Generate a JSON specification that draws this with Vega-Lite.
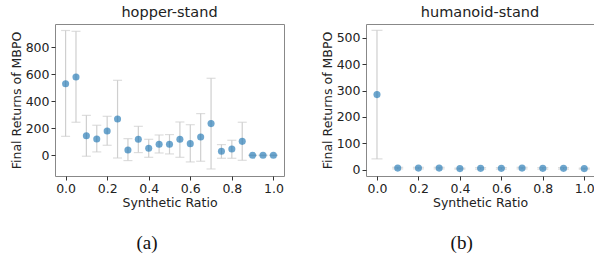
{
  "$schema": "https://vega.github.io/schema/vega-lite/v6.json",
  "background": "white",
  "padding": {"left": 9, "top": 4, "right": 0, "bottom": 0},
  "autosize": {"type": "pad"},
  "datasets": {
    "hopper": [
      {"x": 0.0, "y": 529, "lo": 140, "hi": 922},
      {"x": 0.05, "y": 578, "lo": 244, "hi": 916},
      {"x": 0.1, "y": 145, "lo": -7, "hi": 295},
      {"x": 0.15, "y": 121, "lo": 25, "hi": 222},
      {"x": 0.2, "y": 180, "lo": 74, "hi": 288},
      {"x": 0.25, "y": 268, "lo": -20, "hi": 554},
      {"x": 0.3, "y": 39, "lo": -39, "hi": 123},
      {"x": 0.35, "y": 118, "lo": 20, "hi": 214},
      {"x": 0.4, "y": 52, "lo": -15, "hi": 118},
      {"x": 0.45, "y": 81, "lo": 17, "hi": 150},
      {"x": 0.5, "y": 81, "lo": 10, "hi": 153},
      {"x": 0.55, "y": 118, "lo": -15, "hi": 246},
      {"x": 0.6, "y": 86, "lo": -49, "hi": 226},
      {"x": 0.65, "y": 135, "lo": -44, "hi": 308},
      {"x": 0.7, "y": 234, "lo": -101, "hi": 569},
      {"x": 0.75, "y": 30, "lo": -22, "hi": 79},
      {"x": 0.8, "y": 47, "lo": -22, "hi": 111},
      {"x": 0.85, "y": 103, "lo": -37, "hi": 244},
      {"x": 0.9, "y": 0, "lo": -2, "hi": 2},
      {"x": 0.95, "y": 0, "lo": -2, "hi": 2},
      {"x": 1.0, "y": 0, "lo": -2, "hi": 2}
    ],
    "humanoid": [
      {"x": 0.0, "y": 285, "lo": 41, "hi": 529},
      {"x": 0.1, "y": 6, "lo": 3, "hi": 9},
      {"x": 0.2, "y": 6, "lo": 3, "hi": 9},
      {"x": 0.3, "y": 6, "lo": 3, "hi": 9},
      {"x": 0.4, "y": 4, "lo": 2, "hi": 6},
      {"x": 0.5, "y": 5, "lo": 2, "hi": 8},
      {"x": 0.6, "y": 5, "lo": 2, "hi": 8},
      {"x": 0.7, "y": 6, "lo": 3, "hi": 9},
      {"x": 0.8, "y": 5, "lo": 2, "hi": 8},
      {"x": 0.9, "y": 5, "lo": 2, "hi": 8},
      {"x": 1.0, "y": 4, "lo": 2, "hi": 6}
    ]
  },
  "config": {
    "font": "DejaVu Sans",
    "view": {"stroke": "#888888", "strokeWidth": 1},
    "axis": {
      "domain": false,
      "grid": false,
      "labelFontSize": 12.5,
      "titleFontSize": 12.5,
      "titleFontWeight": "normal",
      "labelColor": "#222222",
      "titleColor": "#222222",
      "tickColor": "#333333",
      "tickSize": 4,
      "labelPadding": 2,
      "labelOverlap": false,
      "labelFlush": false,
      "titlePadding": 2
    },
    "title": {"fontSize": 14.5, "fontWeight": "normal", "color": "#222222"},
    "concat": {"spacing": 35}
  },
  "hconcat": [
    {
      "title": {"text": "(a)", "orient": "bottom", "anchor": "middle", "font": "Liberation Serif", "fontSize": 19, "fontWeight": "normal", "color": "#111111", "offset": 24},
      "vconcat": [
        {
          "title": {"text": "hopper-stand", "offset": 4},
          "width": 229,
          "height": 152,
          "data": {"name": "hopper"},
          "encoding": {
            "x": {"field": "x", "type": "quantitative", "title": "Synthetic Ratio",
                  "scale": {"domain": [-0.051, 1.051], "nice": false, "zero": false},
                  "axis": {"values": [0, 0.2, 0.4, 0.6, 0.8, 1.0], "format": ".1f"}}
          },
          "layer": [
            {
              "mark": {"type": "rule", "color": "#cfcfcf", "strokeWidth": 1.2},
              "encoding": {
                "y": {"field": "lo", "type": "quantitative", "title": "Final Returns of MBPO",
                      "scale": {"domain": [-153, 970], "nice": false, "zero": false},
                      "axis": {"values": [0, 200, 400, 600, 800]}},
                "y2": {"field": "hi"}
              }
            },
            {
              "mark": {"type": "tick", "orient": "horizontal", "size": 9, "thickness": 1.2, "color": "#cfcfcf"},
              "encoding": {"y": {"field": "lo", "type": "quantitative", "title": "Final Returns of MBPO", "axis": {"values": [0, 200, 400, 600, 800]}}}
            },
            {
              "mark": {"type": "tick", "orient": "horizontal", "size": 9, "thickness": 1.2, "color": "#cfcfcf"},
              "encoding": {"y": {"field": "hi", "type": "quantitative", "title": "Final Returns of MBPO", "axis": {"values": [0, 200, 400, 600, 800]}}}
            },
            {
              "mark": {"type": "circle", "size": 50, "color": "#1f77b4", "opacity": 0.65},
              "encoding": {"y": {"field": "y", "type": "quantitative", "title": "Final Returns of MBPO", "axis": {"values": [0, 200, 400, 600, 800]}}}
            }
          ]
        }
      ]
    },
    {
      "title": {"text": "(b)", "orient": "bottom", "anchor": "middle", "dx": 4, "font": "Liberation Serif", "fontSize": 19, "fontWeight": "normal", "color": "#111111", "offset": 24},
      "vconcat": [
        {
          "title": {"text": "humanoid-stand", "offset": 4},
          "width": 228,
          "height": 152,
          "data": {"name": "humanoid"},
          "encoding": {
            "x": {"field": "x", "type": "quantitative", "title": "Synthetic Ratio",
                  "scale": {"domain": [-0.053, 1.047], "nice": false, "zero": false},
                  "axis": {"values": [0, 0.2, 0.4, 0.6, 0.8, 1.0], "format": ".1f"}}
          },
          "layer": [
            {
              "mark": {"type": "rule", "color": "#cfcfcf", "strokeWidth": 1.2},
              "encoding": {
                "y": {"field": "lo", "type": "quantitative", "title": "Final Returns of MBPO",
                      "scale": {"domain": [-24, 553], "nice": false, "zero": false},
                      "axis": {"values": [0, 100, 200, 300, 400, 500]}},
                "y2": {"field": "hi"}
              }
            },
            {
              "mark": {"type": "tick", "orient": "horizontal", "size": 11, "thickness": 1.2, "color": "#cfcfcf"},
              "encoding": {"y": {"field": "lo", "type": "quantitative", "title": "Final Returns of MBPO", "axis": {"values": [0, 100, 200, 300, 400, 500]}}}
            },
            {
              "mark": {"type": "tick", "orient": "horizontal", "size": 11, "thickness": 1.2, "color": "#cfcfcf"},
              "encoding": {"y": {"field": "hi", "type": "quantitative", "title": "Final Returns of MBPO", "axis": {"values": [0, 100, 200, 300, 400, 500]}}}
            },
            {
              "mark": {"type": "circle", "size": 50, "color": "#1f77b4", "opacity": 0.65},
              "encoding": {"y": {"field": "y", "type": "quantitative", "title": "Final Returns of MBPO", "axis": {"values": [0, 100, 200, 300, 400, 500]}}}
            }
          ]
        }
      ]
    }
  ]
}
